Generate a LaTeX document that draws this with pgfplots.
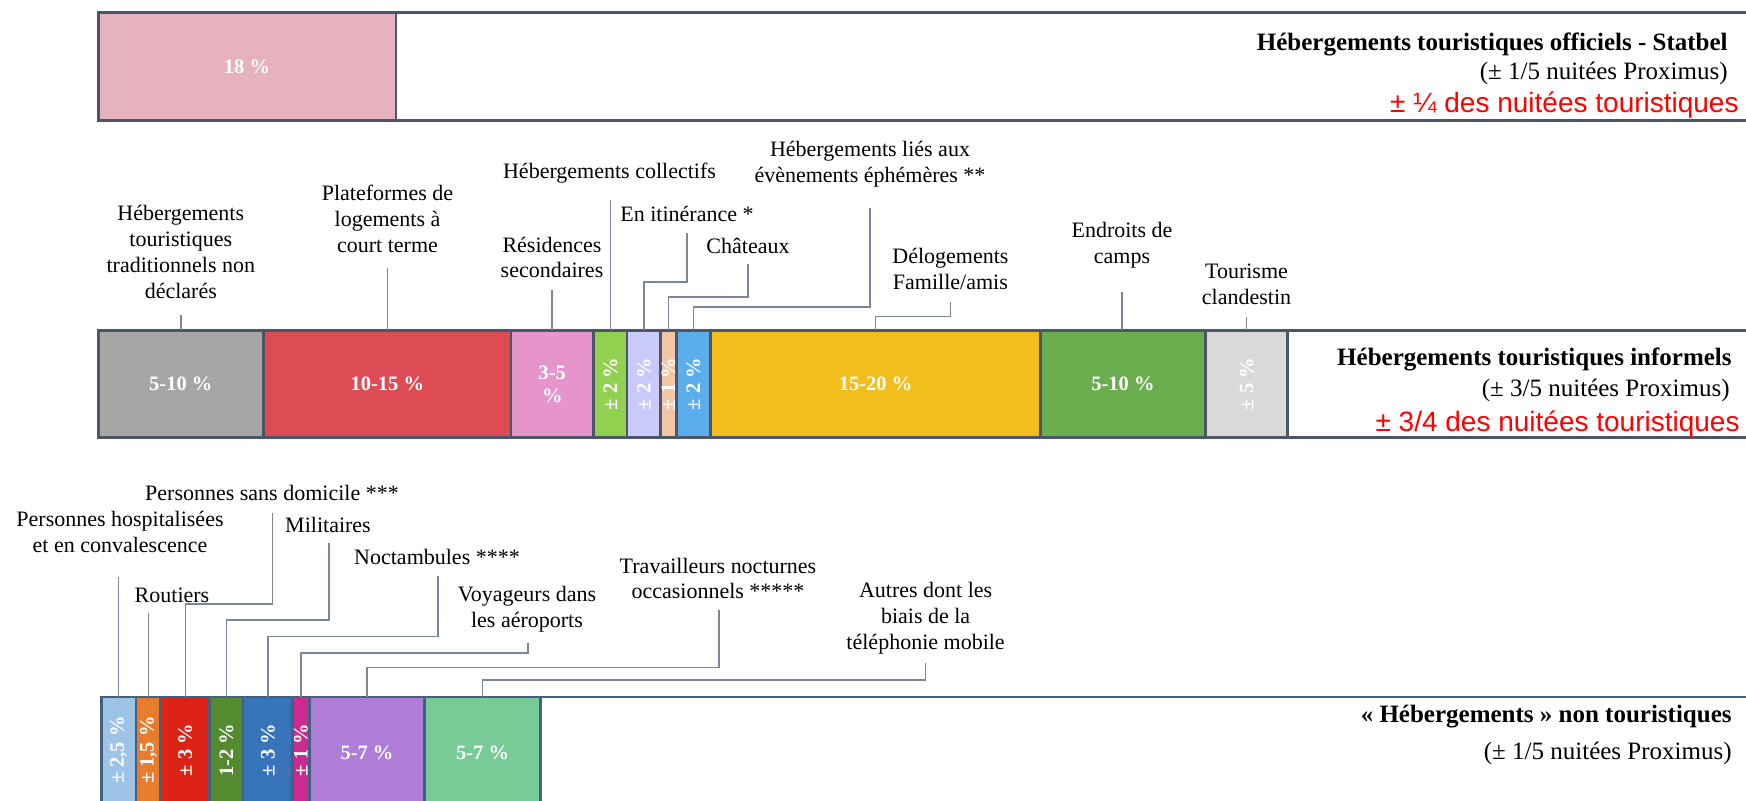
\documentclass[border=0pt]{standalone}
\usepackage{fontspec}
\setmainfont{Liberation Serif}
\newfontfamily\arial{Liberation Sans}
\usepackage{pgfplots}
\pgfplotsset{compat=1.18}

\definecolor{bd}{HTML}{4B5668}
\definecolor{bdb}{HTML}{44607F}
\definecolor{ld}{HTML}{7A869A}
\definecolor{pinkT}{HTML}{E6B2BE}
\definecolor{greyM}{HTML}{A6A6A6}
\definecolor{redM}{HTML}{DD4B54}
\definecolor{pinkM}{HTML}{E595CB}
\definecolor{greenL}{HTML}{92D050}
\definecolor{lav}{HTML}{CACAFA}
\definecolor{peach}{HTML}{F3C6A5}
\definecolor{blueM}{HTML}{5BAEEB}
\definecolor{yellowM}{HTML}{F1BE1C}
\definecolor{greenM}{HTML}{6AAE4F}
\definecolor{lgrey}{HTML}{D9D9D9}
\definecolor{lblue}{HTML}{9DC3E6}
\definecolor{orangeB}{HTML}{E97B2F}
\definecolor{redB}{HTML}{DD2218}
\definecolor{dgreen}{HTML}{548A30}
\definecolor{blueB}{HTML}{3874B9}
\definecolor{magB}{HTML}{CB2B91}
\definecolor{purpleB}{HTML}{B07DD6}
\definecolor{mintB}{HTML}{78CB96}
\definecolor{redT}{HTML}{FF0000}

\pgfplotsset{
  row/.style={
    scale only axis, width=873pt, height=400pt,
    xmin=0, xmax=1746, ymin=0, ymax=800, y dir=reverse,
    hide axis, xbar stacked, clip=true,
    at={(0,0)}, anchor=south west,
  },
}
\tikzset{
  lab/.style={font=\fontsize{11}{12.9}\selectfont, align=center, inner sep=0pt},
  seg/.style={font=\bfseries\fontsize{10.25}{11.6}\selectfont, text=white, inner sep=0pt, align=center},
  rseg/.style={seg, rotate=90},
  ttl/.style={font=\bfseries\fontsize{12.5}{14}\selectfont, anchor=base east, inner sep=0pt},
  sub/.style={font=\fontsize{12.5}{14}\selectfont, anchor=base east, inner sep=0pt},
  redt/.style={font=\arial\fontsize{14}{16}\selectfont, text=redT, anchor=base east, inner sep=0pt},
  ldr/.style={draw=ld, line width=0.7pt},
}

\begin{document}
\begin{tikzpicture}
% ---------------- Row 1 : official (Statbel) ----------------
\begin{axis}[row, name=A, bar width=108.5,
  every axis plot/.append style={draw=bd, line width=1.4pt}]
\addplot[draw=none, fill=none] coordinates {(98.7,66.4)};
\addplot[fill=pinkT] coordinates {(297.3,66.4)};
\addplot[fill=white] coordinates {(1404,66.4)};
\end{axis}

% ---------------- Row 2 : informal ----------------
\begin{axis}[row, bar width=107,
  every axis plot/.append style={draw=bd, line width=1.4pt}]
\addplot[draw=none, fill=none] coordinates {(98.2,383.7)};
\addplot[fill=greyM]   coordinates {(165.2,383.7)};
\addplot[fill=redM]    coordinates {(247.6,383.7)};
\addplot[fill=pinkM]   coordinates {(82.7,383.7)};
\addplot[fill=greenL]  coordinates {(33.3,383.7)};
\addplot[fill=lav]     coordinates {(33.7,383.7)};
\addplot[fill=peach]   coordinates {(15.6,383.7)};
\addplot[fill=blueM]   coordinates {(34.4,383.7)};
\addplot[fill=yellowM] coordinates {(329.9,383.7)};
\addplot[fill=greenM]  coordinates {(165.2,383.7)};
\addplot[fill=lgrey]   coordinates {(81.7,383.7)};
\addplot[fill=white]   coordinates {(512.5,383.7)};
\end{axis}

% ---------------- Row 3 : non-touristic ----------------
\begin{axis}[row, bar width=108,
  every axis plot/.append style={draw=bdb, line width=1.4pt}]
\addplot[draw=none, fill=none] coordinates {(101.4,751)};
\addplot[fill=lblue]   coordinates {(34.5,751)};
\addplot[fill=orangeB] coordinates {(24.8,751)};
\addplot[fill=redB]    coordinates {(49.0,751)};
\addplot[fill=dgreen]  coordinates {(33.3,751)};
\addplot[fill=blueB]   coordinates {(49.8,751)};
\addplot[fill=magB]    coordinates {(16.4,751)};
\addplot[fill=purpleB] coordinates {(115.6,751)};
\addplot[fill=mintB]   coordinates {(115.6,751)};
\addplot[fill=white]   coordinates {(1259.6,751)};
\end{axis}

% ---------------- Annotations (same coordinate system) ----------------
\begin{axis}[row]
% Row 1
\node[seg] at (247,66.4) {18 \%};
\node[ttl] at (1728,50) {Hébergements touristiques officiels - Statbel};
\node[sub] at (1728,79.5) {(± 1/5 nuitées Proximus)};
\node[redt] at (1739,112) {± ¼ des nuitées touristiques};
% Row 2 segment labels
\node[seg] at (180.8,384) {5-10 \%};
\node[seg] at (387.3,384) {10-15 \%};
\node[seg] at (552.3,384) {3-5\\\%};
\node[rseg] at (610.4,384) {± 2 \%};
\node[rseg] at (644,384) {± 2 \%};
\node[rseg] at (668.5,384) {± 1 \%};
\node[rseg] at (693.5,384) {± 2 \%};
\node[seg] at (875.6,384) {15-20 \%};
\node[seg] at (1123,384) {5-10 \%};
\node[rseg] at (1246.6,384) {± 5 \%};
% Row 2 category labels
\node[lab] at (180.8,252) {Hébergements\\touristiques\\traditionnels non\\déclarés};
\draw[ldr] (180.8,315) -- (180.8,330);
\node[lab] at (387.5,218.7) {Plateformes de\\logements à\\court terme};
\draw[ldr] (387.5,268) -- (387.5,330);
\node[lab] at (552,257.5) {Résidences\\secondaires};
\draw[ldr] (552,290) -- (552,330);
\node[lab] at (609.5,173) {Hébergements collectifs};
\draw[ldr] (610.4,200) -- (610.4,330);
\node[lab] at (687,214) {En itinérance *};
\draw[ldr] (687,233) -- (687,282) -- (644,282) -- (644,330);
\node[lab] at (748,246) {Châteaux};
\draw[ldr] (748,264) -- (748,297) -- (668.5,297) -- (668.5,330);
\node[lab] at (870,164.5) {Hébergements liés aux\\évènements éphémères **};
\draw[ldr] (870,208) -- (870,307) -- (693.5,307) -- (693.5,330);
\node[lab] at (950.4,269.2) {Délogements\\Famille/amis};
\draw[ldr] (950.4,301.7) -- (950.4,316.7) -- (875.6,316.7) -- (875.6,330);
\node[lab] at (1122,245.4) {Endroits de\\camps};
\draw[ldr] (1122,291.7) -- (1122,330);
\node[lab] at (1246.5,284.2) {Tourisme\\clandestin};
\draw[ldr] (1246.5,316.7) -- (1246.5,330);
\node[ttl] at (1732,365) {Hébergements touristiques informels};
\node[sub] at (1730,396) {(± 3/5 nuitées Proximus)};
\node[redt] at (1740,431) {± 3/4 des nuitées touristiques};
% Row 3 segment labels
\node[rseg] at (118.7,750) {± 2,5 \%};
\node[rseg] at (148.3,750) {± 1,5 \%};
\node[rseg] at (185.2,750) {± 3 \%};
\node[rseg] at (226.4,750) {1-2 \%};
\node[rseg] at (268,750) {± 3 \%};
\node[rseg] at (301,750) {± 1 \%};
\node[seg] at (367,753) {5-7 \%};
\node[seg] at (482.6,753) {5-7 \%};
% Row 3 category labels
\node[lab] at (120,532) {Personnes hospitalisées\\et en convalescence};
\draw[ldr] (118.7,576.7) -- (118.7,697);
\node[lab] at (172,595) {Routiers};
\draw[ldr] (148.3,613) -- (148.3,697);
\node[lab] at (272,493) {Personnes sans domicile ***};
\draw[ldr] (272.5,513) -- (272.5,604) -- (185.2,604) -- (185.2,697);
\node[lab] at (328,525) {Militaires};
\draw[ldr] (329,542.7) -- (329,620) -- (226.4,620) -- (226.4,697);
\node[lab] at (437,557) {Noctambules ****};
\draw[ldr] (438,576) -- (438,636.7) -- (268,636.7) -- (268,697);
\node[lab] at (527,609.4) {Voyageurs dans\\les aéroports};
\draw[ldr] (528,642.7) -- (528,653) -- (301,653) -- (301,697);
\node[lab] at (718,578.4) {Travailleurs nocturnes\\occasionnels *****};
\draw[ldr] (718.9,610) -- (718.9,667.7) -- (367,667.7) -- (367,697);
\node[lab] at (925.6,618) {Autres dont les\\biais de la\\téléphonie mobile};
\draw[ldr] (925.6,663) -- (925.6,680) -- (482.6,680) -- (482.6,697);
\node[ttl] at (1732,722) {« Hébergements » non touristiques};
\node[sub] at (1732,759) {(± 1/5 nuitées Proximus)};
\end{axis}
\pgfresetboundingbox
\path[use as bounding box] (A.south west) rectangle (A.north east);
\end{tikzpicture}
\end{document}
